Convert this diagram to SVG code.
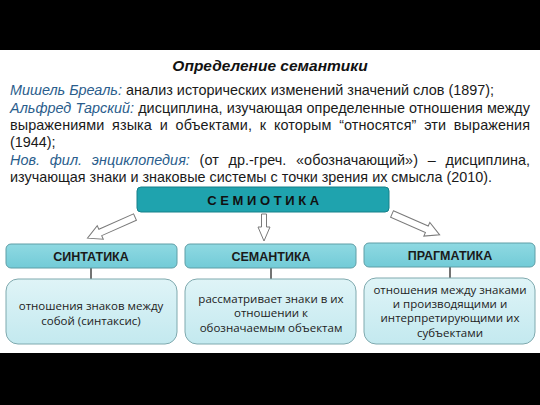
<svg xmlns="http://www.w3.org/2000/svg" width="540" height="405" viewBox="0 0 540 405">
<defs>
<linearGradient id="hdr" x1="0" y1="0" x2="0" y2="1"><stop offset="0" stop-color="#8fd9e2"/><stop offset="1" stop-color="#72cbd7"/></linearGradient>
<linearGradient id="bdy" x1="0" y1="0" x2="0" y2="1"><stop offset="0" stop-color="#dff4f7"/><stop offset="1" stop-color="#c3e9ef"/></linearGradient>
</defs>
<style>
.t{font-family:"Liberation Sans",Arial,sans-serif;font-size:14.4px;fill:#1a1a1a}
.n{font-style:italic;fill:#2a5d8c}
.h{font-family:"Liberation Sans",Arial,sans-serif;font-size:12.5px;font-weight:bold;fill:#1a1a1a;text-anchor:middle}
.b{font-family:"Open Sans","DejaVu Sans",sans-serif;font-size:11.5px;fill:#222;text-anchor:middle}
.hb{fill:url(#hdr);stroke:#5f9ea6;stroke-width:1}
.bb{fill:url(#bdy);stroke:#7fa9ae;stroke-width:1}
.ar{fill:#fff;stroke:#7a7a7a;stroke-width:1}
.ln{stroke:#444;stroke-width:1.5}
</style>
<rect x="0" y="0" width="540" height="405" fill="#fff"/>
<rect x="0" y="0" width="540" height="50" fill="#000"/>
<rect x="0" y="353" width="540" height="52" fill="#000"/>
<text x="270" y="71" text-anchor="middle" style="font-family:'Liberation Sans',Arial,sans-serif;font-size:15.5px;font-weight:bold;font-style:italic;fill:#111">Определение семантики</text>
<text class="t" x="10" y="95"><tspan class="n">Мишель Бреаль:</tspan> анализ исторических изменений значений слов (1897);</text>
<text class="t" x="10" y="113" textLength="520" lengthAdjust="spacing"><tspan class="n">Альфред Тарский:</tspan> дисциплина, изучающая определенные отношения между</text>
<text class="t" x="10" y="130" word-spacing="3.7" textLength="520" lengthAdjust="spacing">выражениями языка и объектами, к которым “относятся” эти выражения</text>
<text class="t" x="10" y="147">(1944);</text>
<text class="t" x="10" y="165" word-spacing="5.7" textLength="520" lengthAdjust="spacing"><tspan class="n">Нов. фил. энциклопедия:</tspan> (от др.-греч. «обозначающий») – дисциплина,</text>
<text class="t" x="10" y="182">изучающая знаки и знаковые системы с точки зрения их смысла (2010).</text>

<g id="semiotika">
<rect x="137" y="187" width="252" height="25" rx="4" fill="#1fa3ae" stroke="#17808a"/>
<text x="265" y="205" text-anchor="middle" style="font-family:'Liberation Sans',Arial,sans-serif;font-size:13px;font-weight:bold;letter-spacing:3.6px;fill:#111">СЕМИОТИКА</text>
</g>

<g id="connectors">
<polygon class="ar" transform="translate(135,217) rotate(156)" points="0,-3.5 38,-3.5 38,-7.5 52,0 38,7.5 38,3.5 0,3.5"/>
<polygon class="ar" transform="translate(264,214) rotate(90)" points="0,-2.5 13,-2.5 13,-6 27,0 13,6 13,2.5 0,2.5"/>
<polygon class="ar" transform="translate(392,214) rotate(23.6)" points="0,-3.5 38,-3.5 38,-7.5 52,0 38,7.5 38,3.5 0,3.5"/>
<line class="ln" x1="91" y1="268" x2="91" y2="279"/>
<line class="ln" x1="271" y1="268" x2="271" y2="279"/>
<line class="ln" x1="450" y1="267" x2="450" y2="278"/>
</g>

<g id="sintatika">
<rect class="hb" x="6" y="244" width="171" height="24" rx="5"/>
<text class="h" x="91" y="261">СИНТАТИКА</text>
</g>
<g id="sintatika-def">
<rect class="bb" x="6" y="279" width="171" height="65" rx="12"/>
<text class="b" x="91" y="310">отношения знаков между</text>
<text class="b" x="91" y="325">собой (синтаксис)</text>
</g>

<g id="semantika">
<rect class="hb" x="185" y="244" width="171" height="24" rx="5"/>
<text class="h" x="271" y="261">СЕМАНТИКА</text>
</g>
<g id="semantika-def">
<rect class="bb" x="185" y="279" width="171" height="65" rx="12"/>
<text class="b" x="271" y="303">рассматривает знаки в их</text>
<text class="b" x="271" y="317">отношении к</text>
<text class="b" x="271" y="332">обозначаемым объектам</text>
</g>

<g id="pragmatika">
<rect class="hb" x="364" y="243" width="171" height="24" rx="5"/>
<text class="h" x="450" y="260">ПРАГМАТИКА</text>
</g>
<g id="pragmatika-def">
<rect class="bb" x="364" y="278" width="171" height="66" rx="12"/>
<text class="b" x="450" y="294">отношения между знаками</text>
<text class="b" x="450" y="308">и производящими и</text>
<text class="b" x="450" y="322">интерпретирующими их</text>
<text class="b" x="450" y="337">субъектами</text>
</g>
</svg>
